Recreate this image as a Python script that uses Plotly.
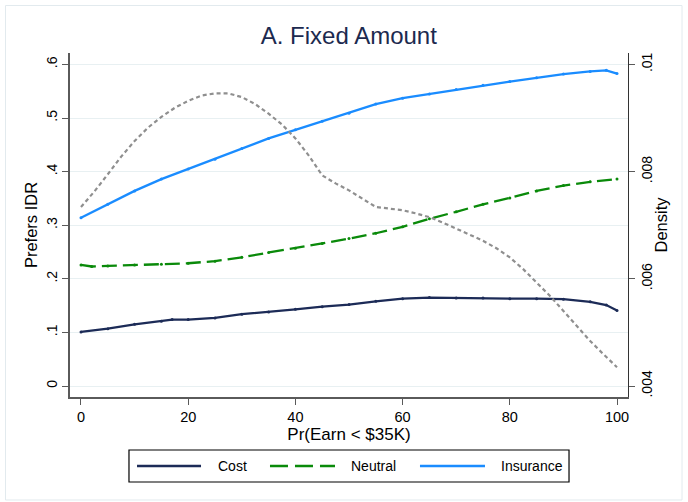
import plotly.graph_objects as go

# Share preferring IDR, by probability of earning under $35K
cost_x = [0, 5, 10, 15, 17, 20, 25, 30, 35, 40, 45, 50, 55, 60, 65, 70, 75, 80, 85, 90, 95, 98, 100]
cost_y = [0.101, 0.107, 0.115, 0.121, 0.124, 0.124, 0.127, 0.134, 0.138, 0.143, 0.148, 0.152,
          0.158, 0.163, 0.165, 0.164, 0.164, 0.163, 0.163, 0.162, 0.157, 0.151, 0.141]

neutral_x = [0, 2, 5, 10, 15, 20, 25, 30, 35, 40, 45, 50, 55, 60, 65, 70, 75, 80, 85, 90, 95, 100]
neutral_y = [0.226, 0.223, 0.224, 0.226, 0.227, 0.229, 0.233, 0.240, 0.249, 0.257, 0.266, 0.275,
             0.285, 0.297, 0.312, 0.325, 0.339, 0.351, 0.364, 0.374, 0.381, 0.386]

insurance_x = [0, 5, 10, 15, 20, 25, 30, 35, 40, 45, 50, 55, 60, 65, 70, 75, 80, 85, 90, 95, 98, 100]
insurance_y = [0.314, 0.339, 0.364, 0.386, 0.405, 0.423, 0.443, 0.462, 0.478, 0.494, 0.509, 0.526,
               0.537, 0.545, 0.553, 0.561, 0.568, 0.575, 0.582, 0.587, 0.589, 0.583]

# Kernel density of Pr(Earn < $35K) (right axis)
density_x = [0, 2.5, 5, 7.5, 10, 12.5, 15, 17.5, 20, 22.5, 25, 27.5, 30, 32.5, 35, 37.5, 40,
             42.5, 45, 47.5, 50, 52.5, 55, 57.5, 60, 62.5, 65, 67.5, 70, 72.5, 75, 77.5, 80,
             82.5, 85, 87.5, 90, 92.5, 95, 97.5, 100]
density_y = [0.00734, 0.00763, 0.00795, 0.00828, 0.00857, 0.00882, 0.00902, 0.00919, 0.00932,
             0.00942, 0.00946, 0.00946, 0.00939, 0.00926, 0.00908, 0.00888, 0.00862, 0.00830,
             0.00793, 0.00778, 0.00765, 0.00750, 0.00734, 0.00731, 0.00728, 0.00722, 0.00715,
             0.00705, 0.00694, 0.00683, 0.00671, 0.00657, 0.00640, 0.00618, 0.00593, 0.00568,
             0.00540, 0.00512, 0.00484, 0.00459, 0.00435]

x_ticks = [0, 20, 40, 60, 80, 100]
left_ticks = [0, 0.1, 0.2, 0.3, 0.4, 0.5, 0.6]
left_labels = ["0", ".1", ".2", ".3", ".4", ".5", ".6"]
right_ticks = [0.004, 0.006, 0.008, 0.01]
right_labels = [".004", ".006", ".008", ".01"]

series_names = ["Cost", "Neutral", "Insurance"]
COST_C = "#1c2b57"
NEUTRAL_C = "#0a8a0a"
INS_C = "#1a8cff"
DENS_C = "#8f8f8f"
FONT = "Liberation Sans, Arial, sans-serif"

fig = go.Figure()

fig.add_trace(go.Scatter(
    x=density_x, y=density_y, yaxis="y2", mode="lines",
    line=dict(color=DENS_C, width=2.2, dash="4px,3px"), showlegend=False, name="Density"))

fig.add_trace(go.Scatter(
    x=cost_x, y=cost_y, mode="lines+markers", name=series_names[0],
    line=dict(color=COST_C, width=2.3), marker=dict(size=3, color=COST_C), showlegend=False))
fig.add_trace(go.Scatter(
    x=neutral_x, y=neutral_y, mode="lines+markers", name=series_names[1],
    line=dict(color=NEUTRAL_C, width=2.3, dash="15px,6px"), marker=dict(size=3, color=NEUTRAL_C),
    showlegend=False))
fig.add_trace(go.Scatter(
    x=insurance_x, y=insurance_y, mode="lines+markers", name=series_names[2],
    line=dict(color=INS_C, width=2.3), marker=dict(size=3, color=INS_C), showlegend=False))

axis_col = "#5a5a5a"

fig.update_layout(
    width=688, height=502,
    margin=dict(l=70, r=60, t=53, b=105),
    paper_bgcolor="white", plot_bgcolor="white",
    font=dict(family=FONT, size=14, color="black"),
    title=dict(text="A. Fixed Amount", x=0.507, xanchor="center", y=0.93, yanchor="middle",
               font=dict(family=FONT, size=24, color="#1c2a4f")),
    xaxis=dict(
        range=[-2.05, 102.05], tickvals=x_ticks, ticks="outside", ticklen=6, tickwidth=1.2,
        tickcolor=axis_col, showline=True, linecolor=axis_col, linewidth=1.8, showgrid=False,
        zeroline=False, tickfont=dict(size=14.5),
        title=dict(text="Pr(Earn < $35K)", font=dict(size=17), standoff=0)),
    yaxis=dict(
        range=[-0.0205, 0.6213], tickvals=left_ticks, ticktext=left_labels, tickangle=-90,
        ticks="outside", ticklen=6, tickwidth=1.2, tickcolor=axis_col, showline=True,
        linecolor=axis_col, linewidth=1.8, showgrid=True, gridcolor="#e8f0f2", gridwidth=1,
        zeroline=False, tickfont=dict(size=14),
        title=dict(text="Prefers IDR", font=dict(size=16.5), standoff=2)),
    yaxis2=dict(
        range=[0.003795, 0.010213], overlaying="y", side="right", tickvals=right_ticks,
        ticktext=right_labels, tickangle=-90, ticks="outside", ticklen=6, tickwidth=1.2,
        tickcolor=axis_col, showline=True, linecolor="#333333", linewidth=1.3, showgrid=False,
        zeroline=False, tickfont=dict(size=14),
        title=dict(text="Density", font=dict(size=16.5), standoff=1)),
)

# Outer frame of the graph region
fig.add_shape(type="rect", xref="paper", yref="paper", x0=-0.1156, x1=1.0968, y0=-0.2994,
              y1=1.1381, line=dict(color="#e2eaee", width=1), layer="below")

# Legend box with line samples
leg_y = -0.2006
fig.add_shape(type="rect", xref="paper", yref="paper", x0=0.1057, x1=0.8943, y0=-0.2471,
              y1=-0.1541, line=dict(color="black", width=1.2), fillcolor="white")
legend_items = [
    (series_names[0], COST_C, "solid", 0.1201, 0.2348, 0.2616),
    (series_names[1], NEUTRAL_C, "18px,7px", 0.3584, 0.4749, 0.5000),
    (series_names[2], INS_C, "solid", 0.6272, 0.7437, 0.7688),
]
for name, col, dash, lx0, lx1, tx in legend_items:
    fig.add_shape(type="line", xref="paper", yref="paper", x0=lx0, x1=lx1, y0=leg_y, y1=leg_y,
                  line=dict(color=col, width=2.6, dash=dash))
    fig.add_annotation(text=name, xref="paper", yref="paper", x=tx, y=leg_y, xanchor="left",
                       yanchor="middle", showarrow=False, font=dict(size=14, color="black"))

fig.write_html("out.html")
